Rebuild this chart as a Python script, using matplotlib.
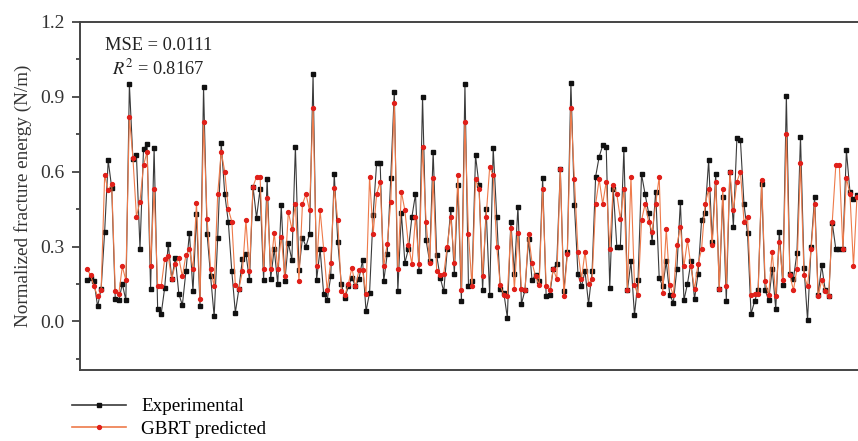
import numpy as np
import matplotlib
matplotlib.use("Agg")
import matplotlib.pyplot as plt

plt.rcParams['font.family'] = ['Liberation Serif', 'DejaVu Serif']
plt.rcParams['mathtext.fontset'] = 'stix'

experimental = [
    0.165, 0.175, 0.16, 0.06, 0.13, 0.36, 0.645, 0.535, 0.09, 0.085, 0.15, 0.085,
    0.95, 0.65, 0.665, 0.29, 0.69, 0.71, 0.13, 0.695, 0.05, 0.03, 0.135, 0.31,
    0.17, 0.255, 0.11, 0.065, 0.2, 0.355, 0.12, 0.43, 0.06, 0.94, 0.35, 0.18,
    0.02, 0.335, 0.715, 0.51, 0.40, 0.2, 0.035, 0.13, 0.25, 0.27, 0.165, 0.54,
    0.415, 0.53, 0.165, 0.57, 0.17, 0.29, 0.15,
    0.465, 0.16, 0.315, 0.245, 0.70, 0.205, 0.335, 0.30, 0.35, 0.99,
    0.165, 0.29, 0.11, 0.085, 0.18, 0.59, 0.32, 0.15, 0.095, 0.14, 0.175, 0.14,
    0.17, 0.245, 0.04, 0.115, 0.425, 0.635, 0.635, 0.16, 0.27,
    0.575, 0.92, 0.12, 0.435, 0.235, 0.29, 0.42, 0.51, 0.2, 0.9, 0.325, 0.24,
    0.68, 0.265, 0.175, 0.12, 0.29, 0.45, 0.19, 0.545, 0.08, 0.95,
    0.14, 0.16, 0.665, 0.545, 0.125, 0.45, 0.105, 0.695, 0.42, 0.13, 0.115, 0.015,
    0.40, 0.19, 0.46, 0.07, 0.125, 0.33, 0.165, 0.185, 0.16, 0.575,
    0.10, 0.105, 0.21, 0.23, 0.61, 0.12, 0.28, 0.957, 0.465, 0.19, 0.14, 0.20,
    0.07, 0.2, 0.58, 0.66, 0.705, 0.70, 0.135, 0.53, 0.30, 0.30,
    0.69, 0.125, 0.24, 0.025, 0.165, 0.59, 0.51, 0.435, 0.32, 0.52, 0.175, 0.14,
    0.24, 0.105, 0.075, 0.21, 0.48, 0.085, 0.15, 0.24, 0.09, 0.19,
    0.405, 0.435, 0.645, 0.32, 0.59, 0.13, 0.50, 0.08, 0.60, 0.38, 0.735, 0.725,
    0.47, 0.355, 0.03, 0.08, 0.125, 0.55, 0.125, 0.085, 0.21, 0.05, 0.36,
    0.145, 0.905, 0.19, 0.17, 0.275, 0.74, 0.215, 0.005, 0.30, 0.50, 0.105, 0.225,
    0.125, 0.10, 0.395, 0.29, 0.29, 0.29, 0.685, 0.52, 0.49, 0.505,
]

gbrt_predicted = [
    0.21, 0.185, 0.14, 0.10, 0.125, 0.585, 0.525, 0.55, 0.12, 0.11, 0.22, 0.165,
    0.82, 0.655, 0.42, 0.48, 0.625, 0.68, 0.22, 0.53, 0.14, 0.14, 0.25, 0.26,
    0.17, 0.23, 0.255, 0.18, 0.265, 0.29, 0.21, 0.475, 0.09, 0.80, 0.41, 0.21,
    0.14, 0.51, 0.68, 0.60, 0.45, 0.40, 0.145, 0.13, 0.2, 0.405, 0.2, 0.54,
    0.58, 0.58, 0.21, 0.495, 0.21, 0.355, 0.21,
    0.34, 0.18, 0.44, 0.37, 0.47, 0.16, 0.47, 0.51, 0.445, 0.855,
    0.22, 0.445, 0.29, 0.125, 0.235, 0.535, 0.405, 0.12, 0.105, 0.15, 0.215, 0.14,
    0.205, 0.205, 0.11, 0.58, 0.35, 0.51, 0.56, 0.22, 0.31,
    0.48, 0.875, 0.21, 0.52, 0.445, 0.305, 0.23, 0.42, 0.23, 0.70, 0.40, 0.235,
    0.575, 0.2, 0.185, 0.19, 0.3, 0.42, 0.235, 0.585, 0.125, 0.80,
    0.35, 0.14, 0.57, 0.53, 0.18, 0.42, 0.617, 0.585, 0.30, 0.145, 0.105, 0.10,
    0.375, 0.13, 0.355, 0.13, 0.125, 0.35, 0.235, 0.18, 0.145, 0.53,
    0.14, 0.125, 0.21, 0.17, 0.61, 0.10, 0.27, 0.855, 0.57, 0.28, 0.17, 0.28,
    0.15, 0.17, 0.47, 0.57, 0.47, 0.56, 0.29, 0.545, 0.51, 0.41,
    0.53, 0.125, 0.58, 0.145, 0.105, 0.405, 0.47, 0.40, 0.36, 0.47, 0.58, 0.115,
    0.37, 0.145, 0.105, 0.305, 0.38, 0.22, 0.325, 0.22, 0.13, 0.23,
    0.29, 0.47, 0.53, 0.305, 0.56, 0.13, 0.53, 0.14, 0.60, 0.445, 0.56, 0.60,
    0.40, 0.42, 0.105, 0.11, 0.11, 0.565, 0.16, 0.105, 0.28, 0.10, 0.32,
    0.165, 0.75, 0.185, 0.125, 0.21, 0.635, 0.185, 0.14, 0.29, 0.47, 0.10, 0.165,
    0.12, 0.10, 0.40, 0.625, 0.625, 0.29, 0.575, 0.51, 0.22, 0.50,
]

mse_text = "MSE = 0.0111"
r2_text = "$R^2$ = 0.8167"

idx = np.arange(len(experimental))

fig = plt.figure(figsize=(8.58, 4.41), dpi=100)
ax = fig.add_axes([80 / 858, 1 - 370 / 441, 778 / 858, 348 / 441])

ax.plot(idx, experimental, color='#3a3a3a', lw=0.8, marker='s', ms=2.8,
        mfc='#111111', mec='#111111', label='Experimental')
ax.plot(idx, gbrt_predicted, color='#ee7a4a', lw=0.8, marker='o', ms=2.8,
        mfc='#e0201a', mec='#e0201a', label='GBRT predicted')

n = len(experimental)
span = (n - 1) * 778 / 770
x0 = -7 * span / 778
ax.set_xlim(x0, x0 + span)
ax.set_ylim(-0.195, 1.2)
ax.set_xticks([])
ax.set_yticks([0.0, 0.3, 0.6, 0.9, 1.2])
ax.set_yticklabels(['0.0', '0.3', '0.6', '0.9', '1.2'])
ax.set_yticks([-0.15, 0.15, 0.45, 0.75, 1.05], minor=True)
ax.tick_params(axis='y', which='major', length=6, width=1.2, labelsize=14,
               colors='#333333', pad=5)
ax.tick_params(axis='y', which='minor', length=3, width=1.2, colors='#333333')
ax.spines['right'].set_visible(False)
for side in ['left', 'top', 'bottom']:
    ax.spines[side].set_color('#444444')
    ax.spines[side].set_linewidth(1.4)

ax.set_ylabel('Normalized fracture energy (N/m)', fontsize=13.8, color='#333333',
              labelpad=6)

ax.text(0.101, 0.932, mse_text, transform=ax.transAxes, ha='center', va='center',
        fontsize=13.2, color='#222222')
ax.text(0.101, 0.868, r2_text, transform=ax.transAxes, ha='center', va='center',
        fontsize=13.2, color='#222222')

leg = fig.legend(loc='upper left', bbox_to_anchor=(72 / 858, 1 - 398 / 441),
                 frameon=False, fontsize=13.8, handlelength=2.8, handletextpad=0.8,
                 labelspacing=0.28, borderaxespad=0, borderpad=0)
for h in leg.get_lines():
    h.set_linewidth(1.2)

fig.savefig('out.png', dpi=100)
